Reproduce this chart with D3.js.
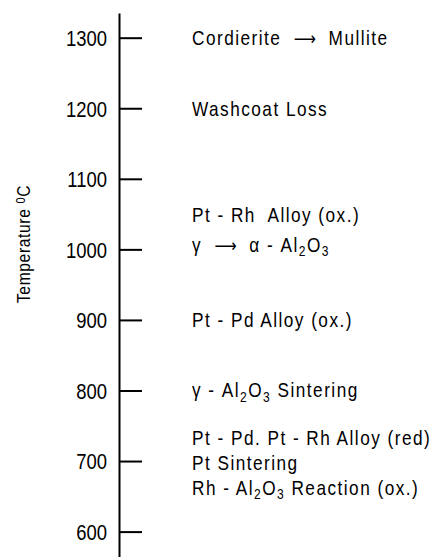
<!DOCTYPE html>
<html>
<head>
<meta charset="utf-8">
<script src="https://cdn.jsdelivr.net/npm/d3@7"></script>
<style>
  html, body { margin: 0; padding: 0; background: #fff; }
  svg { display: block; }
  text { font-family: "Liberation Sans", Arial, sans-serif; fill: #000; }
</style>
</head>
<body>
<svg id="chart" width="430" height="557"></svg>
<script>
// ---- data ----
const tickValues = [600, 700, 800, 900, 1000, 1100, 1200, 1300];
// each label is a list of [text, kind] pieces: "n" normal, "sub" subscript, "sup" superscript, "arr" arrow
const eventTemps = [1300, 1200, 1050, 1007, 900, 801, 733, 698, 663];
const eventLabels = [
  [["Cordierite  ", "n"], ["\u27f6", "arr"], ["  Mullite", "n"]],
  [["Washcoat Loss", "n"]],
  [["Pt - Rh  Alloy (ox.)", "n"]],
  [["\u03b3  ", "n"], ["\u27f6", "arr"], ["  \u03b1 - Al", "n"], ["2", "sub"], ["O", "n"], ["3", "sub"]],
  [["Pt - Pd Alloy (ox.)", "n"]],
  [["\u03b3 - Al", "n"], ["2", "sub"], ["O", "n"], ["3", "sub"], [" Sintering", "n"]],
  [["Pt - Pd. Pt - Rh Alloy (red)", "n"]],
  [["Pt Sintering", "n"]],
  [["Rh - Al", "n"], ["2", "sub"], ["O", "n"], ["3", "sub"], [" Reaction (ox.)", "n"]]
];
const axisTitle = [["Temperature ", "n"], ["0", "sup"], ["C", "n"]];
const yDomain = [564, 1335];

// ---- chart ----
const svg = d3.select("#chart");
const axisX = 119;
const condense = 0.82;
const y = d3.scaleLinear().domain(yDomain).range([557, 13]);

const axis = d3.axisLeft(y)
  .tickValues(tickValues)
  .tickFormat(d3.format("d"))
  .tickSizeInner(-23)
  .tickSizeOuter(0)
  .tickPadding(12);

const gAxis = svg.append("g")
  .attr("transform", `translate(${axisX},0)`)
  .call(axis);
gAxis.select(".domain").attr("stroke", "#000").attr("stroke-width", 2);
gAxis.selectAll(".tick line").attr("stroke", "#000").attr("stroke-width", 2);
gAxis.selectAll(".tick text")
  .attr("font-family", "Liberation Sans, Arial, sans-serif")
  .attr("font-size", 22)
  .attr("fill", "#000")
  .attr("x", -12 / 0.84)
  .attr("transform", "scale(0.84,1)")
  .attr("dy", "0.36em");

function addPieces(textSel, pieces, size) {
  pieces.forEach(([t, kind]) => {
    const ts = textSel.append("tspan").text(t);
    if (kind === "sub") {
      ts.attr("font-size", size * 0.7).attr("baseline-shift", "-30%");
    } else if (kind === "sup") {
      ts.attr("font-size", size * 0.7).attr("baseline-shift", "45%");
    } else if (kind === "arr") {
      ts.attr("font-family", "DejaVu Sans").attr("font-size", size * 0.9)
        .attr("letter-spacing", "0px");
    }
  });
}

// event labels
const labelSize = 21;
eventLabels.forEach((pieces, i) => {
  const t = svg.append("text")
    .attr("transform", `translate(192,${y(eventTemps[i])}) scale(${condense},1)`)
    .attr("dy", "0.36em")
    .attr("font-size", labelSize)
    .attr("letter-spacing", "1.8px")
    .attr("xml:space", "preserve")
    .style("white-space", "pre");
  addPieces(t, pieces, labelSize);
});

// axis title
const title = svg.append("text")
  .attr("transform", `translate(30,244) rotate(-90) scale(${condense},1)`)
  .attr("text-anchor", "middle")
  .attr("font-size", 19)
  .attr("letter-spacing", "0.8px")
  .attr("xml:space", "preserve")
  .style("white-space", "pre");
addPieces(title, axisTitle, 19);
</script>
</body>
</html>
